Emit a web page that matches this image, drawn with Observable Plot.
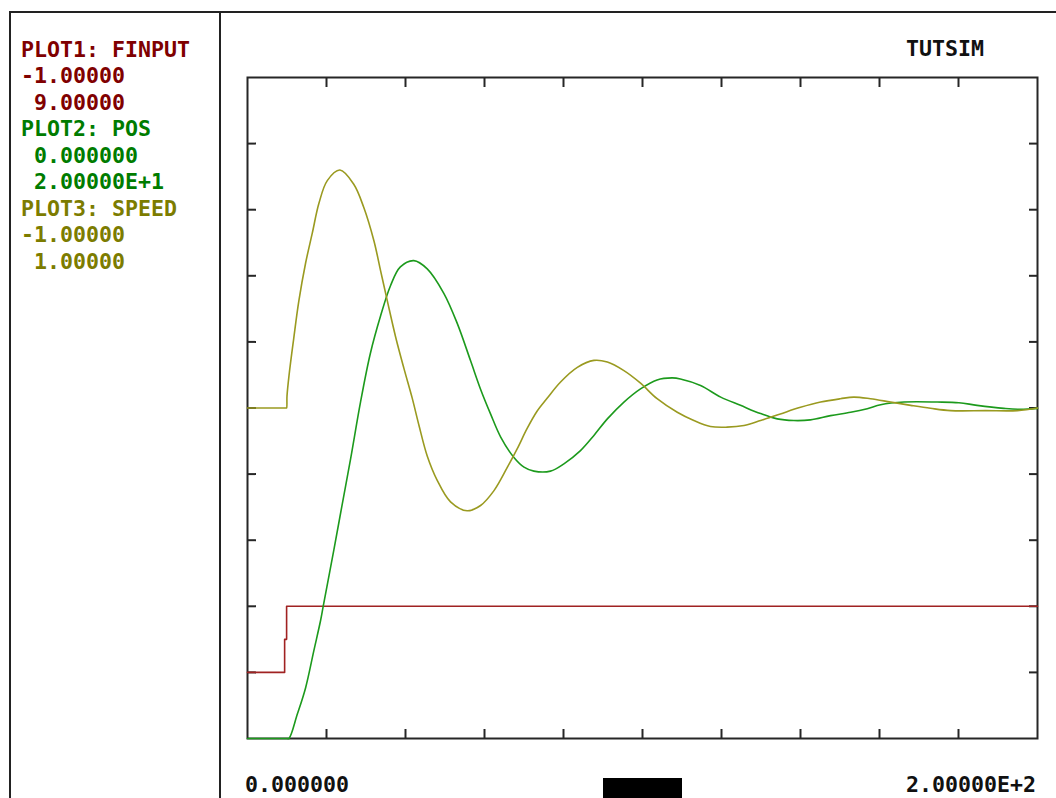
<!DOCTYPE html>
<html><head><meta charset="utf-8">
<script src="https://cdn.jsdelivr.net/npm/d3@7"></script>
<script src="https://cdn.jsdelivr.net/npm/@observablehq/plot@0.6"></script>
<style>
html,body{margin:0;padding:0;background:#fff;overflow:hidden;}
#page{position:relative;width:1056px;height:798px;overflow:hidden;background:#fff;
  font-family:"DejaVu Sans Mono",monospace;font-weight:bold;font-size:21.6px;}
.abs{position:absolute;white-space:pre;line-height:26.5px;}
.rule{position:absolute;background:#222;}
</style></head><body><div id="page"></div>
<script>
// ---- data ----
const title = "TUTSIM";
const xDomain = [0, 200];
const xTicks = [20, 40, 60, 80, 100, 120, 140, 160, 180];
const xStartLabel = "0.000000";
const xEndLabel = "2.00000E+2";

const seriesNames = ["PLOT1: FINPUT", "PLOT2: POS", "PLOT3: SPEED"];
const seriesMin = ["-1.00000", " 0.000000", "-1.00000"];
const seriesMax = [" 9.00000", " 2.00000E+1", " 1.00000"];
const seriesDomains = [[-1, 9], [0, 20], [-1, 1]];
const textColors = ["#800000", "#007c00", "#7c7c00"];
const lineColors = ["#a02222", "#1c9a1c", "#9a9a20"];

// FINPUT (step input)
const finputT = [0, 9.4, 9.9, 200];
const finputV = [0, 0.5, 1, 1];

// POS
const posT = [0, 10.0, 10.5, 12.6, 14.7, 16.8, 18.5, 19.2, 21.9, 24.0, 26.1,
  28.6, 31.1, 33.7, 36.2, 38.7, 42.1, 45.5, 49.7, 53.1, 56.5,
  59.0, 61.5, 64.1, 67.4, 70.0, 72.5, 76.7, 80.1, 84.3, 87.7,
  91.1, 95.3, 99.5, 103.7, 107.5, 109.6, 114.7, 119.8, 124.8, 129.9,
  134.1, 138.3, 142.5, 147.6, 152.7, 156.9, 160.3, 166.2, 174.6, 180.1,
  184.7, 191.5, 195.7, 200];
const posV = [0, 0, 0, 0.73, 1.53, 2.66, 3.57, 4.02, 5.73, 7.10, 8.46,
  10.17, 11.65, 12.79, 13.70, 14.27, 14.46, 14.21, 13.47, 12.56, 11.42,
  10.57, 9.83, 9.12, 8.51, 8.21, 8.09, 8.09, 8.31, 8.71, 9.17,
  9.67, 10.18, 10.58, 10.85, 10.91, 10.88, 10.68, 10.33, 10.08, 9.83,
  9.67, 9.62, 9.64, 9.77, 9.87, 9.98, 10.10, 10.18, 10.18, 10.16,
  10.08, 9.99, 9.96, 9.99];

// SPEED
const speedT = [0, 9.8, 9.9, 10.0, 10.5, 11.7, 13.0, 14.7, 16.4, 18.1, 20.2,
  23.4, 26.9, 29.4, 32.0, 33.7, 35.4, 37.5, 39.6, 41.7, 43.4,
  45.5, 48.0, 51.4, 55.6, 59.0, 62.4, 65.8, 68.3, 70.8, 73.3,
  75.9, 79.2, 83.5, 87.7, 91.1, 95.3, 99.5, 103.7, 108.8, 113.0,
  117.2, 121.4, 125.7, 129.9, 134.9, 140.0, 145.1, 150.1, 153.5, 157.7,
  162.8, 167.9, 172.9, 178.0, 186.8, 194.9, 200];
const speedV = [0, 0, 0, 0.036, 0.097, 0.210, 0.324, 0.438, 0.529, 0.620, 0.688,
  0.720, 0.677, 0.608, 0.506, 0.415, 0.324, 0.215, 0.120, 0.030, -0.052,
  -0.145, -0.218, -0.284, -0.311, -0.295, -0.250, -0.179, -0.123, -0.062, -0.010,
  0.030, 0.078, 0.123, 0.144, 0.139, 0.113, 0.075, 0.028, -0.013, -0.038,
  -0.056, -0.058, -0.053, -0.038, -0.018, 0.002, 0.018, 0.028, 0.033, 0.028,
  0.018, 0.008, -0.001, -0.008, -0.008, -0.008, 0.0];

// ---- build ----
const page = document.getElementById("page");
function addDiv(cls, css, text) {
  const d = document.createElement("div");
  d.className = cls;
  d.style.cssText = css;
  if (text != null) d.textContent = text;
  page.appendChild(d);
  return d;
}
const rows = (T, V) => T.map((t, i) => ({t, v: V[i]}));

const common = {
  width: 1056, height: 798,
  marginLeft: 247, marginRight: 19, marginTop: 77, marginBottom: 60,
  style: "position:absolute;left:0;top:0;background:transparent;overflow:visible;color:#262626;"
};
const curves = ["step-after", "catmull-rom", "catmull-rom"];
const data = [rows(finputT, finputV), rows(posT, posV), rows(speedT, speedV)];
const yTicks = d3.range(1, 10).map(k => seriesDomains[0][0] + k * (seriesDomains[0][1] - seriesDomains[0][0]) / 10);

data.forEach((rowsI, i) => {
  const marks = [];
  if (i === 0) {
    const blank = () => "";
    marks.push(
      Plot.frame({stroke: "#262626", strokeWidth: 2}),
      Plot.axisX(xTicks, {anchor: "bottom", tickSize: 9, dy: -9, tickFormat: blank, label: null, strokeWidth: 2}),
      Plot.axisX(xTicks, {anchor: "top", tickSize: 9, dy: 9, tickFormat: blank, label: null, strokeWidth: 2}),
      Plot.axisY(yTicks, {anchor: "left", tickSize: 9, dx: 9, tickFormat: blank, label: null, strokeWidth: 2}),
      Plot.axisY(yTicks, {anchor: "right", tickSize: 9, dx: -9, tickFormat: blank, label: null, strokeWidth: 2})
    );
  }
  marks.push(Plot.line(rowsI, {x: "t", y: "v", stroke: lineColors[i], strokeWidth: 1.6, curve: curves[i]}));
  const svg = Plot.plot({
    ...common,
    x: {domain: xDomain, axis: null},
    y: {domain: seriesDomains[i], axis: null},
    marks
  });
  page.appendChild(svg);
});

// borders of the screen layout
addDiv("rule", "left:9px;top:11px;width:1047px;height:2px;");
addDiv("rule", "left:9px;top:11px;width:2px;height:787px;");
addDiv("rule", "left:219px;top:11px;width:2px;height:787px;");

// legend text (left panel)
const legendLines = [];
seriesNames.forEach((n, i) => {
  legendLines.push([n, i], [seriesMin[i], i], [seriesMax[i], i]);
});
legendLines.forEach(([txt, i], k) => {
  addDiv("abs", `left:21px;top:${36.6 + 26.5 * k}px;color:${textColors[i]};`, txt);
});

// title and x range labels
addDiv("abs", "left:906px;top:35.8px;color:#111;", title);
addDiv("abs", "left:245px;top:771.5px;color:#111;", xStartLabel);
addDiv("abs", "left:906px;top:771.5px;color:#111;", xEndLabel);
addDiv("rule", "left:603px;top:778px;width:79px;height:20px;background:#000;");
</script></body></html>
